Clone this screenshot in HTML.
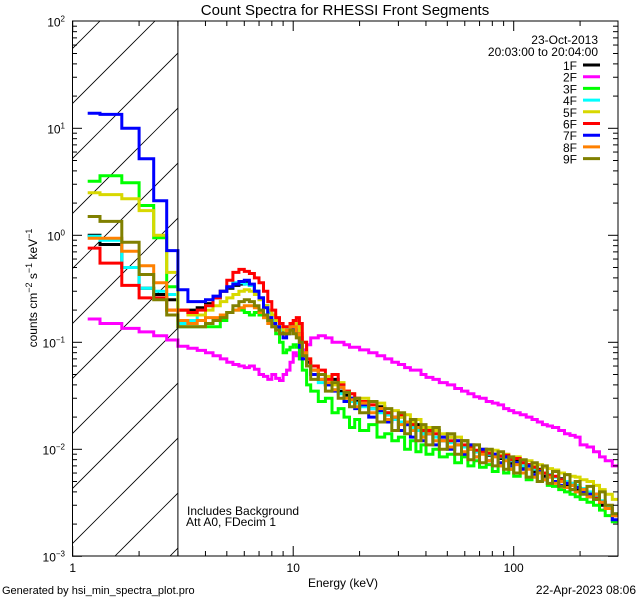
<!DOCTYPE html>
<html><head><meta charset="utf-8"><style>
html,body{margin:0;padding:0;background:#fff;}
svg{display:block;font-family:"Liberation Sans",sans-serif;}
</style></head><body>
<svg id="chart" width="640" height="600" xmlns="http://www.w3.org/2000/svg">
<rect width="640" height="600" fill="#fff"/>
<text x="345" y="15" font-size="15" text-anchor="middle">Count Spectra for RHESSI Front Segments</text>
<text x="598" y="44" font-size="12" text-anchor="end">23-Oct-2013</text>
<text x="598" y="56" font-size="12" text-anchor="end">20:03:00 to 20:04:00</text>
<text x="187" y="515" font-size="12">Includes Background</text>
<text x="186" y="526" font-size="12">Att A0, FDecim 1</text>
<text x="343" y="587" font-size="12" text-anchor="middle">Energy (keV)</text>
<text x="2" y="594" font-size="11">Generated by hsi_min_spectra_plot.pro</text>
<text x="636" y="594" font-size="12" text-anchor="end">22-Apr-2023 08:06</text>
<text transform="translate(37,288) rotate(-90)" font-size="12" text-anchor="middle">counts cm<tspan dy="-5" font-size="9">−2</tspan><tspan dy="5"> s</tspan><tspan dy="-5" font-size="9">−1</tspan><tspan dy="5"> keV</tspan><tspan dy="-5" font-size="9">−1</tspan></text>
<defs><clipPath id="plotclip"><rect x="72" y="21" width="546" height="535"/></clipPath>
<clipPath id="hatchclip"><rect x="72" y="21" width="106" height="535"/></clipPath></defs>
<g id="hatch" clip-path="url(#hatchclip)"></g>
<g id="series" clip-path="url(#plotclip)"></g>
<g id="axes"></g>
<g id="legend"></g>
</svg>
<script>
const edges=[1.17,1.33,1.67,2.0,2.33,2.67,3.0,3.33,3.67,4.0,4.33,4.67,5.0,5.33,5.67,6.0,6.33,6.67,7.0,7.33,7.67,8.0,8.33,8.67,9.0,9.33,9.67,10.0,10.33,10.67,11.0,11.5,12,13,14,15,16,17,18,19,20,22,24,26,28,30,32,34,36,38,40,43,46,50,54,58,62,66,70,75,80,85,90,95,100,107,114,121,128,135,142,150,160,170,180,190,200,215,230,245,260,280,297];
const seriesNames=["1F","2F","3F","4F","5F","6F","7F","8F","9F"];
const seriesColors=["#000000","#ff00ff","#00ff00","#00ffff","#d8d800","#ff0000","#0000ff","#ff8000","#808000"];
const s1F=[1.0,0.82,0.5,0.32,0.28,0.25, .2,.2,.21,.23,.26,.3,.32,.34,.35,.36,.34,.3,.26,.22,.19,.16,.14,.13,.12,.13,.14,.15,.14,.11,.08,.065, 0.055,0.05,0.04,0.045,0.035,0.032,0.03,0.028, 0.026,0.024,0.025,0.021,0.019,0.02,0.017,0.016,0.017,0.014, 0.014,0.015, 0.012,0.013,0.011,0.012,0.01,0.0095, 0.0095,0.0088,0.009,0.0082,0.0085,0.0074, 0.0078,0.0068,0.0072,0.0062,0.0065,0.0056,0.0058, 0.005,0.0053,0.0046,0.0048,0.0042, 0.0042,0.0036,0.0038,0.003,0.0028,0.0024];
const s2F=[.165,.15,.135,.125,.115,.105, .092,.088,.084,.08,.075,.07,.065,.062,.06,.058,.06,.056,.05,.048,.045,.05,.046,.044,.05,.055,.065,.08,.075,.07,.085,.095, .11,.115,.11,.1,.1,.095,.09,.09, .085,.08,.075,.07,.065,.062,.058,.055,.055,.05, .047,.045, .042,.04,.037,.035,.033,.031, .03,.028,.027,.026,.024,.023, .022,.021,.02,.019,.018,.017,.0165, .016,.015,.014,.0135,.013, .011,.0105,.0095,.0085,.0078,.007];
const s3F=[3.2,3.6,3.1,1.9,0.95,0.33, .14,.14,.14,.14,.14,.16,.19,.2,.2,.19,.18,.19,.18,.17,.16,.15,.12,.1,.08,.085,.09,.095,.09,.07,.055,.04, 0.035,0.028,0.03,0.022,0.024,0.02,0.016,0.019, 0.015,0.017,0.013,0.014,0.012,0.013,0.01,0.012,0.0095,0.011, 0.009,0.01, 0.0085,0.009,0.0075,0.0085,0.007,0.0078, 0.0068,0.0072,0.0062,0.007,0.006,0.0065, 0.0056,0.006,0.0052,0.0055,0.005,0.0052,0.0046, 0.0045,0.0042,0.004,0.0038,0.0036, 0.0034,0.0032,0.003,0.0027,0.0024,0.0021];
const s4F=[.98,.9,.5,.32,.3,.28, .15,.16,.18,.22,.26,.3,.33,.36,.36,.35,.34,.3,.26,.22,.19,.16,.14,.13,.13,.14,.15,.14,.13,.11,.08,.06, 0.05,0.042,0.04,0.036,0.033,0.03,0.028,0.027, 0.025,0.024,0.022,0.021,0.019,0.018,0.017,0.016,0.015,0.014, 0.014,0.013, 0.012,0.0115,0.011,0.0105,0.01,0.0095, 0.0095,0.009,0.0088,0.0085,0.008,0.0078, 0.0075,0.007,0.0068,0.0065,0.0062,0.006,0.0058, 0.0055,0.0052,0.005,0.0048,0.0046, 0.0043,0.004,0.0036,0.0033,0.0029,0.0025];
const s5F=[2.5,2.4,2.2,1.7,1.0,0.45, .2,.18,.18,.2,.22,.24,.26,.28,.3,.31,.3,.28,.25,.22,.2,.18,.16,.14,.13,.13,.14,.15,.14,.12,.1,.07, 0.06,0.05,0.048,0.04,0.042,0.035,0.033,0.03, 0.03,0.026,0.027,0.022,0.023,0.02,0.021,0.018,0.019,0.016, 0.016,0.015, 0.014,0.013,0.013,0.012,0.011,0.011, 0.01,0.0095,0.0098,0.0088,0.009,0.0082, 0.0085,0.0075,0.0078,0.007,0.0072,0.0068,0.0066, 0.0064,0.006,0.0058,0.0056,0.0055, 0.0052,0.005,0.0046,0.0042,0.0038,0.0034];
const s6F=[.76,.55,.34,.26,.26,.2, .2,.19,.2,.22,.26,.3,.38,.45,.48,.46,.44,.4,.36,.3,.24,.2,.17,.15,.14,.14,.15,.16,.17,.15,.1,.07, 0.06,0.055,0.045,0.05,0.04,0.035,0.033,0.03, 0.028,0.026,0.024,0.022,0.02,0.021,0.018,0.017,0.016,0.015, 0.015,0.014, 0.013,0.012,0.012,0.011,0.0105,0.0098, 0.0095,0.0092,0.009,0.0086,0.0088,0.008, 0.0082,0.0075,0.0072,0.0068,0.0064,0.006,0.0057, 0.0056,0.0052,0.0048,0.0046,0.0044, 0.0042,0.0038,0.0035,0.0032,0.0028,0.0024];
const s7F=[13.8,13.5,10,5.2,2.1,0.72, .31,.24,.24,.25,.27,.3,.33,.35,.37,.38,.35,.3,.26,.21,.17,.15,.14,.12,.11,.12,.14,.13,.12,.09,.07,.06, 0.05,0.045,0.04,0.035,0.038,0.028,0.03,0.024, 0.026,0.02,0.023,0.018,0.02,0.015,0.017,0.013,0.016,0.012, 0.014,0.011, 0.013,0.01,0.012,0.009,0.011,0.0085, 0.01,0.0078,0.009,0.0075,0.0085,0.007, 0.0075,0.0065,0.007,0.0058,0.0062,0.0052,0.0055, 0.005,0.0046,0.0048,0.0042,0.0044, 0.004,0.0038,0.0034,0.0032,0.0028,0.0022];
const s8F=[.94,.94,.71,.52,.36,.2, .16,.15,.16,.17,.17,.18,.19,.2,.21,.22,.22,.21,.19,.17,.15,.14,.13,.12,.12,.13,.14,.14,.12,.1,.08,.06, 0.055,0.045,0.042,0.036,0.038,0.03,0.029,0.025, 0.027,0.022,0.024,0.019,0.02,0.017,0.018,0.015,0.016,0.013, 0.014,0.012, 0.012,0.0105,0.011,0.0095,0.01,0.0085, 0.009,0.0078,0.0085,0.007,0.0078,0.0065, 0.0072,0.006,0.0065,0.0055,0.006,0.0052,0.0055, 0.0048,0.005,0.0044,0.0046,0.004, 0.0042,0.0036,0.0038,0.0032,0.0028,0.0024];
const s9F=[1.5,1.35,.86,.43,.25,.18, .14,.14,.14,.15,.16,.17,.19,.22,.24,.25,.24,.22,.2,.18,.16,.14,.13,.12,.12,.12,.13,.12,.11,.1,.075,.06, 0.045,0.05,0.035,0.042,0.03,0.034,0.025,0.03, 0.022,0.028,0.018,0.024,0.015,0.022,0.014,0.019,0.012,0.017, 0.011,0.016, 0.01,0.014,0.009,0.012,0.008,0.011, 0.0075,0.01,0.007,0.0095,0.0065,0.0085, 0.006,0.008,0.0055,0.0075,0.005,0.007,0.0048, 0.0062,0.0045,0.0058,0.0042,0.005, 0.0038,0.0045,0.0034,0.004,0.003,0.0025];
const seriesData=[s1F,s2F,s3F,s4F,s5F,s6F,s7F,s8F,s9F];
const xTickLabels=["1","10","100"];
const yTickExps=["0","1","2","-3","-2","-1"];

const NS="http://www.w3.org/2000/svg";
const X0=72.7,XDEC=220.5,Y0=21.3,YDEC=107,YTOPEXP=2;
function xs(e){return X0+Math.log10(e)*XDEC;}
function ys(v){return Y0+(YTOPEXP-Math.log10(v))*YDEC;}
function mk(tag,attrs,parent){const el=document.createElementNS(NS,tag);for(const k in attrs)el.setAttribute(k,attrs[k]);parent.appendChild(el);return el;}

// hatch
const hatch=document.getElementById('hatch');
for(let x0=-600;x0<250;x0+=55){
  const l=mk('line',{x1:x0,y1:556,x2:x0+600,y2:-44,stroke:'#000','stroke-width':0.8},hatch);
  
  
}
const axes=document.getElementById('axes');
const bl=mk('line',{x1:xs(3),y1:21,x2:xs(3),y2:556,stroke:'#000','stroke-width':1},axes);



// series
const sg=document.getElementById('series');
seriesData.forEach((vals,i)=>{
  let d='';
  for(let b=0;b<vals.length;b++){
    const xa=xs(edges[b]),xb=xs(edges[b+1]),y=ys(vals[b]);
    d+=(b===0?'M':'L')+xa.toFixed(1)+','+y.toFixed(1)+'L'+xb.toFixed(1)+','+y.toFixed(1);
  }
  const p=mk('path',{d:d,fill:'none',stroke:seriesColors[i],'stroke-width':3,'stroke-linejoin':'miter'},sg);
  
  
});

// axes frame
const fr=mk('rect',{x:72.5,y:21,width:545.5,height:535,fill:'none',stroke:'#000','stroke-width':1},axes);


// x ticks
for(let dec=0;dec<3;dec++){
  for(let m=1;m<10;m++){
    const e=m*Math.pow(10,dec); if(e>297)break;
    const x=xs(e),L=m===1?10:5;
    const t1=mk('line',{x1:x,y1:556,x2:x,y2:556-L,stroke:'#000'},axes);
    
    
    const t2=mk('line',{x1:x,y1:21,x2:x,y2:21+L,stroke:'#000'},axes);
    
    
  }
}
xTickLabels.forEach(s=>{
  const t=mk('text',{x:xs(parseFloat(s)),y:572,'font-size':12,'text-anchor':'middle'},axes);
  t.textContent=s;
  
  
});
// y ticks
for(let ex=-3;ex<2;ex++){
  for(let m=1;m<10;m++){
    const y=ys(m*Math.pow(10,ex)),L=m===1?10:5;
    const t1=mk('line',{x1:72,y1:y,x2:72+L,y2:y,stroke:'#000'},axes);
    
    
    const t2=mk('line',{x1:618,y1:y,x2:618-L,y2:y,stroke:'#000'},axes);
    
    
  }
}
yTickExps.forEach(s=>{
  const y=ys(Math.pow(10,parseFloat(s)));
  const t=mk('text',{x:65,y:y+5,'font-size':12,'text-anchor':'end'},axes);
  
  
  const a=document.createElementNS(NS,'tspan');a.textContent='10';t.appendChild(a);
  const b=document.createElementNS(NS,'tspan');b.setAttribute('dy','-5');b.setAttribute('font-size','8');b.textContent=s.replace('-','−');t.appendChild(b);
});
// legend
const lg=document.getElementById('legend');
seriesNames.forEach((n,i)=>{
  const y=65+i*11.7;
  const t=mk('text',{x:577,y:y+5,'font-size':12,'text-anchor':'end'},lg);
  t.textContent=n;
  
  
  const l=mk('line',{x1:583,y1:y,x2:600,y2:y,stroke:seriesColors[i],'stroke-width':3},lg);
  
  
});
</script>
</body></html>
